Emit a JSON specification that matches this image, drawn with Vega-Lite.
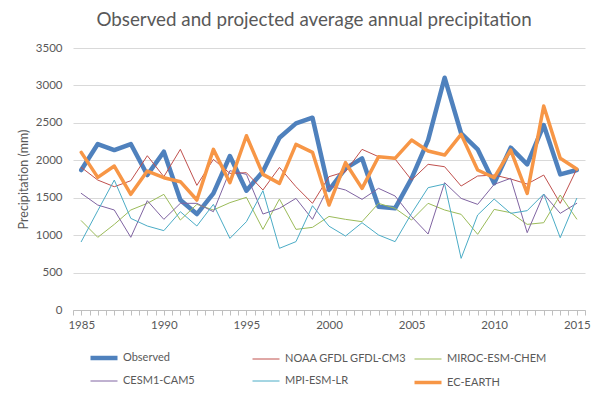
{
  "$schema": "https://vega.github.io/schema/vega-lite/v6.json",
  "width": 512,
  "height": 262,
  "autosize": {"type": "none"},
  "padding": {"left": 73, "top": 48, "right": 17, "bottom": 84},
  "background": "white",
  "config": {"view": {"stroke": null}},
  "title": {
    "text": "Observed and projected average annual precipitation",
    "font": "Lato", "fontSize": 18.8, "fontWeight": "normal", "color": "#595959",
    "anchor": "middle", "frame": "group", "baseline": "alphabetic", "offset": -3, "dx": -15
  },
  "data": {"values": [
    {"year": 1985, "Observed": 1870, "NOAA GFDL GFDL-CM3": 1905, "MIROC-ESM-CHEM": 1193, "CESM1-CAM5": 1558, "MPI-ESM-LR": 913, "EC-EARTH": 2106},
    {"year": 1986, "Observed": 2217, "NOAA GFDL GFDL-CM3": 1736, "MIROC-ESM-CHEM": 971, "CESM1-CAM5": 1402, "MPI-ESM-LR": 1327, "EC-EARTH": 1772},
    {"year": 1987, "Observed": 2137, "NOAA GFDL GFDL-CM3": 1647, "MIROC-ESM-CHEM": 1144, "CESM1-CAM5": 1336, "MPI-ESM-LR": 1736, "EC-EARTH": 1923},
    {"year": 1988, "Observed": 2217, "NOAA GFDL GFDL-CM3": 1727, "MIROC-ESM-CHEM": 1336, "CESM1-CAM5": 971, "MPI-ESM-LR": 1224, "EC-EARTH": 1545},
    {"year": 1989, "Observed": 1803, "NOAA GFDL GFDL-CM3": 2061, "MIROC-ESM-CHEM": 1425, "CESM1-CAM5": 1460, "MPI-ESM-LR": 1122, "EC-EARTH": 1856},
    {"year": 1990, "Observed": 2115, "NOAA GFDL GFDL-CM3": 1781, "MIROC-ESM-CHEM": 1545, "CESM1-CAM5": 1211, "MPI-ESM-LR": 1060, "EC-EARTH": 1767},
    {"year": 1991, "Observed": 1469, "NOAA GFDL GFDL-CM3": 2146, "MIROC-ESM-CHEM": 1202, "CESM1-CAM5": 1425, "MPI-ESM-LR": 1313, "EC-EARTH": 1714},
    {"year": 1992, "Observed": 1282, "NOAA GFDL GFDL-CM3": 1665, "MIROC-ESM-CHEM": 1411, "CESM1-CAM5": 1425, "MPI-ESM-LR": 1122, "EC-EARTH": 1469},
    {"year": 1993, "Observed": 1558, "NOAA GFDL GFDL-CM3": 2012, "MIROC-ESM-CHEM": 1336, "CESM1-CAM5": 1313, "MPI-ESM-LR": 1411, "EC-EARTH": 2146},
    {"year": 1994, "Observed": 2057, "NOAA GFDL GFDL-CM3": 1825, "MIROC-ESM-CHEM": 1434, "CESM1-CAM5": 1861, "MPI-ESM-LR": 957, "EC-EARTH": 1701},
    {"year": 1995, "Observed": 1594, "NOAA GFDL GFDL-CM3": 1834, "MIROC-ESM-CHEM": 1505, "CESM1-CAM5": 1812, "MPI-ESM-LR": 1180, "EC-EARTH": 2328},
    {"year": 1996, "Observed": 1850, "NOAA GFDL GFDL-CM3": 1603, "MIROC-ESM-CHEM": 1077, "CESM1-CAM5": 1282, "MPI-ESM-LR": 1594, "EC-EARTH": 1812},
    {"year": 1997, "Observed": 2302, "NOAA GFDL GFDL-CM3": 1905, "MIROC-ESM-CHEM": 1482, "CESM1-CAM5": 1358, "MPI-ESM-LR": 824, "EC-EARTH": 1692},
    {"year": 1998, "Observed": 2493, "NOAA GFDL GFDL-CM3": 1647, "MIROC-ESM-CHEM": 1077, "CESM1-CAM5": 1491, "MPI-ESM-LR": 913, "EC-EARTH": 2213},
    {"year": 1999, "Observed": 2569, "NOAA GFDL GFDL-CM3": 1425, "MIROC-ESM-CHEM": 1104, "CESM1-CAM5": 1211, "MPI-ESM-LR": 1393, "EC-EARTH": 2106},
    {"year": 2000, "Observed": 1603, "NOAA GFDL GFDL-CM3": 1781, "MIROC-ESM-CHEM": 1250, "CESM1-CAM5": 1660, "MPI-ESM-LR": 1120, "EC-EARTH": 1402},
    {"year": 2001, "Observed": 1892, "NOAA GFDL GFDL-CM3": 1848, "MIROC-ESM-CHEM": 1211, "CESM1-CAM5": 1603, "MPI-ESM-LR": 988, "EC-EARTH": 1968},
    {"year": 2002, "Observed": 2026, "NOAA GFDL GFDL-CM3": 2146, "MIROC-ESM-CHEM": 1180, "CESM1-CAM5": 1478, "MPI-ESM-LR": 1166, "EC-EARTH": 1625},
    {"year": 2003, "Observed": 1380, "NOAA GFDL GFDL-CM3": 2048, "MIROC-ESM-CHEM": 1425, "CESM1-CAM5": 1625, "MPI-ESM-LR": 1002, "EC-EARTH": 2048},
    {"year": 2004, "Observed": 1358, "NOAA GFDL GFDL-CM3": 2017, "MIROC-ESM-CHEM": 1358, "CESM1-CAM5": 1523, "MPI-ESM-LR": 913, "EC-EARTH": 2026},
    {"year": 2005, "Observed": 1758, "NOAA GFDL GFDL-CM3": 1736, "MIROC-ESM-CHEM": 1202, "CESM1-CAM5": 1247, "MPI-ESM-LR": 1291, "EC-EARTH": 2270},
    {"year": 2006, "Observed": 2270, "NOAA GFDL GFDL-CM3": 1946, "MIROC-ESM-CHEM": 1425, "CESM1-CAM5": 1015, "MPI-ESM-LR": 1634, "EC-EARTH": 2124},
    {"year": 2007, "Observed": 3103, "NOAA GFDL GFDL-CM3": 1914, "MIROC-ESM-CHEM": 1336, "CESM1-CAM5": 1701, "MPI-ESM-LR": 1683, "EC-EARTH": 2070},
    {"year": 2008, "Observed": 2360, "NOAA GFDL GFDL-CM3": 1656, "MIROC-ESM-CHEM": 1278, "CESM1-CAM5": 1491, "MPI-ESM-LR": 690, "EC-EARTH": 2346},
    {"year": 2009, "Observed": 2146, "NOAA GFDL GFDL-CM3": 1790, "MIROC-ESM-CHEM": 1011, "CESM1-CAM5": 1411, "MPI-ESM-LR": 1269, "EC-EARTH": 1870},
    {"year": 2010, "Observed": 1692, "NOAA GFDL GFDL-CM3": 1803, "MIROC-ESM-CHEM": 1344, "CESM1-CAM5": 1678, "MPI-ESM-LR": 1482, "EC-EARTH": 1767},
    {"year": 2011, "Observed": 2168, "NOAA GFDL GFDL-CM3": 1750, "MIROC-ESM-CHEM": 1300, "CESM1-CAM5": 1759, "MPI-ESM-LR": 1291, "EC-EARTH": 2137},
    {"year": 2012, "Observed": 1946, "NOAA GFDL GFDL-CM3": 1683, "MIROC-ESM-CHEM": 1144, "CESM1-CAM5": 1033, "MPI-ESM-LR": 1327, "EC-EARTH": 1558},
    {"year": 2013, "Observed": 2471, "NOAA GFDL GFDL-CM3": 1803, "MIROC-ESM-CHEM": 1166, "CESM1-CAM5": 1549, "MPI-ESM-LR": 1549, "EC-EARTH": 2725},
    {"year": 2014, "Observed": 1812, "NOAA GFDL GFDL-CM3": 1425, "MIROC-ESM-CHEM": 1536, "CESM1-CAM5": 1291, "MPI-ESM-LR": 966, "EC-EARTH": 2026},
    {"year": 2015, "Observed": 1870, "NOAA GFDL GFDL-CM3": 1883, "MIROC-ESM-CHEM": 1215, "CESM1-CAM5": 1425, "MPI-ESM-LR": 1491, "EC-EARTH": 1883}
  ]},
  "transform": [
    {"fold": ["Observed", "NOAA GFDL GFDL-CM3", "MIROC-ESM-CHEM", "CESM1-CAM5", "MPI-ESM-LR", "EC-EARTH"], "as": ["series", "value"]}
  ],
  "mark": {"type": "line", "strokeJoin": "round", "strokeCap": "round"},
  "encoding": {
    "x": {
      "field": "year", "type": "quantitative",
      "scale": {"domain": [1984.5, 2015.5], "nice": false, "zero": false},
      "axis": {
        "title": null, "grid": false,
        "values": [1984.5,1985,1985.5,1986,1986.5,1987,1987.5,1988,1988.5,1989,1989.5,1990,1990.5,1991,1991.5,1992,1992.5,1993,1993.5,1994,1994.5,1995,1995.5,1996,1996.5,1997,1997.5,1998,1998.5,1999,1999.5,2000,2000.5,2001,2001.5,2002,2002.5,2003,2003.5,2004,2004.5,2005,2005.5,2006,2006.5,2007,2007.5,2008,2008.5,2009,2009.5,2010,2010.5,2011,2011.5,2012,2012.5,2013,2013.5,2014,2014.5,2015,2015.5],
        "labelExpr": "datum.value % 5 == 0 ? '' + datum.value : ''",
        "labelOverlap": false, "labelFlush": false,
        "domainColor": "#BFBFBF", "tickColor": "#BFBFBF", "tickSize": 5,
        "labelPadding": 4, "labelColor": "#595959", "labelFont": "Lato", "labelFontSize": 11.5
      }
    },
    "y": {
      "field": "value", "type": "quantitative",
      "scale": {"domain": [0, 3500], "nice": false},
      "axis": {
        "values": [0, 500, 1000, 1500, 2000, 2500, 3000, 3500], "format": "d",
        "title": "Precipitation (mm)", "titleFont": "Lato", "titleFontSize": 12.5, "titleFontWeight": "normal", "titleColor": "#595959", "titlePadding": 5,
        "domain": false, "ticks": false, "gridColor": "#D9D9D9",
        "labelPadding": 11, "labelColor": "#595959", "labelFont": "Lato", "labelFontSize": 11.5
      }
    },
    "color": {
      "field": "series", "type": "nominal",
      "scale": {
        "domain": ["Observed", "NOAA GFDL GFDL-CM3", "MIROC-ESM-CHEM", "CESM1-CAM5", "MPI-ESM-LR", "EC-EARTH"],
        "range": ["#4F81BD", "#C0504D", "#9BBB59", "#8064A2", "#4BACC6", "#F79646"]
      },
      "legend": {
        "title": null, "orient": "none", "legendX": 15, "legendY": 294, "direction": "horizontal", "columns": 3,
        "gridAlign": "all", "columnPadding": 0, "rowPadding": 0,
        "symbolType": "stroke", "symbolSize": 729, "labelOffset": 3,
        "labelFont": "Lato", "labelFontSize": 11, "labelColor": "#595959", "labelLimit": 200
      }
    },
    "strokeWidth": {
      "field": "series", "type": "nominal",
      "scale": {
        "type": "ordinal",
        "domain": ["Observed", "NOAA GFDL GFDL-CM3", "MIROC-ESM-CHEM", "CESM1-CAM5", "MPI-ESM-LR", "EC-EARTH"],
        "range": [4.5, 1, 1, 1, 1, 3.5]
      },
      "legend": {
        "title": null, "orient": "none", "legendX": 15, "legendY": 294, "direction": "horizontal", "columns": 3,
        "gridAlign": "all", "columnPadding": 0, "rowPadding": 0,
        "symbolType": "stroke", "symbolSize": 729, "labelOffset": 3,
        "labelFont": "Lato", "labelFontSize": 11, "labelColor": "#595959", "labelLimit": 200
      }
    }
  }
}
